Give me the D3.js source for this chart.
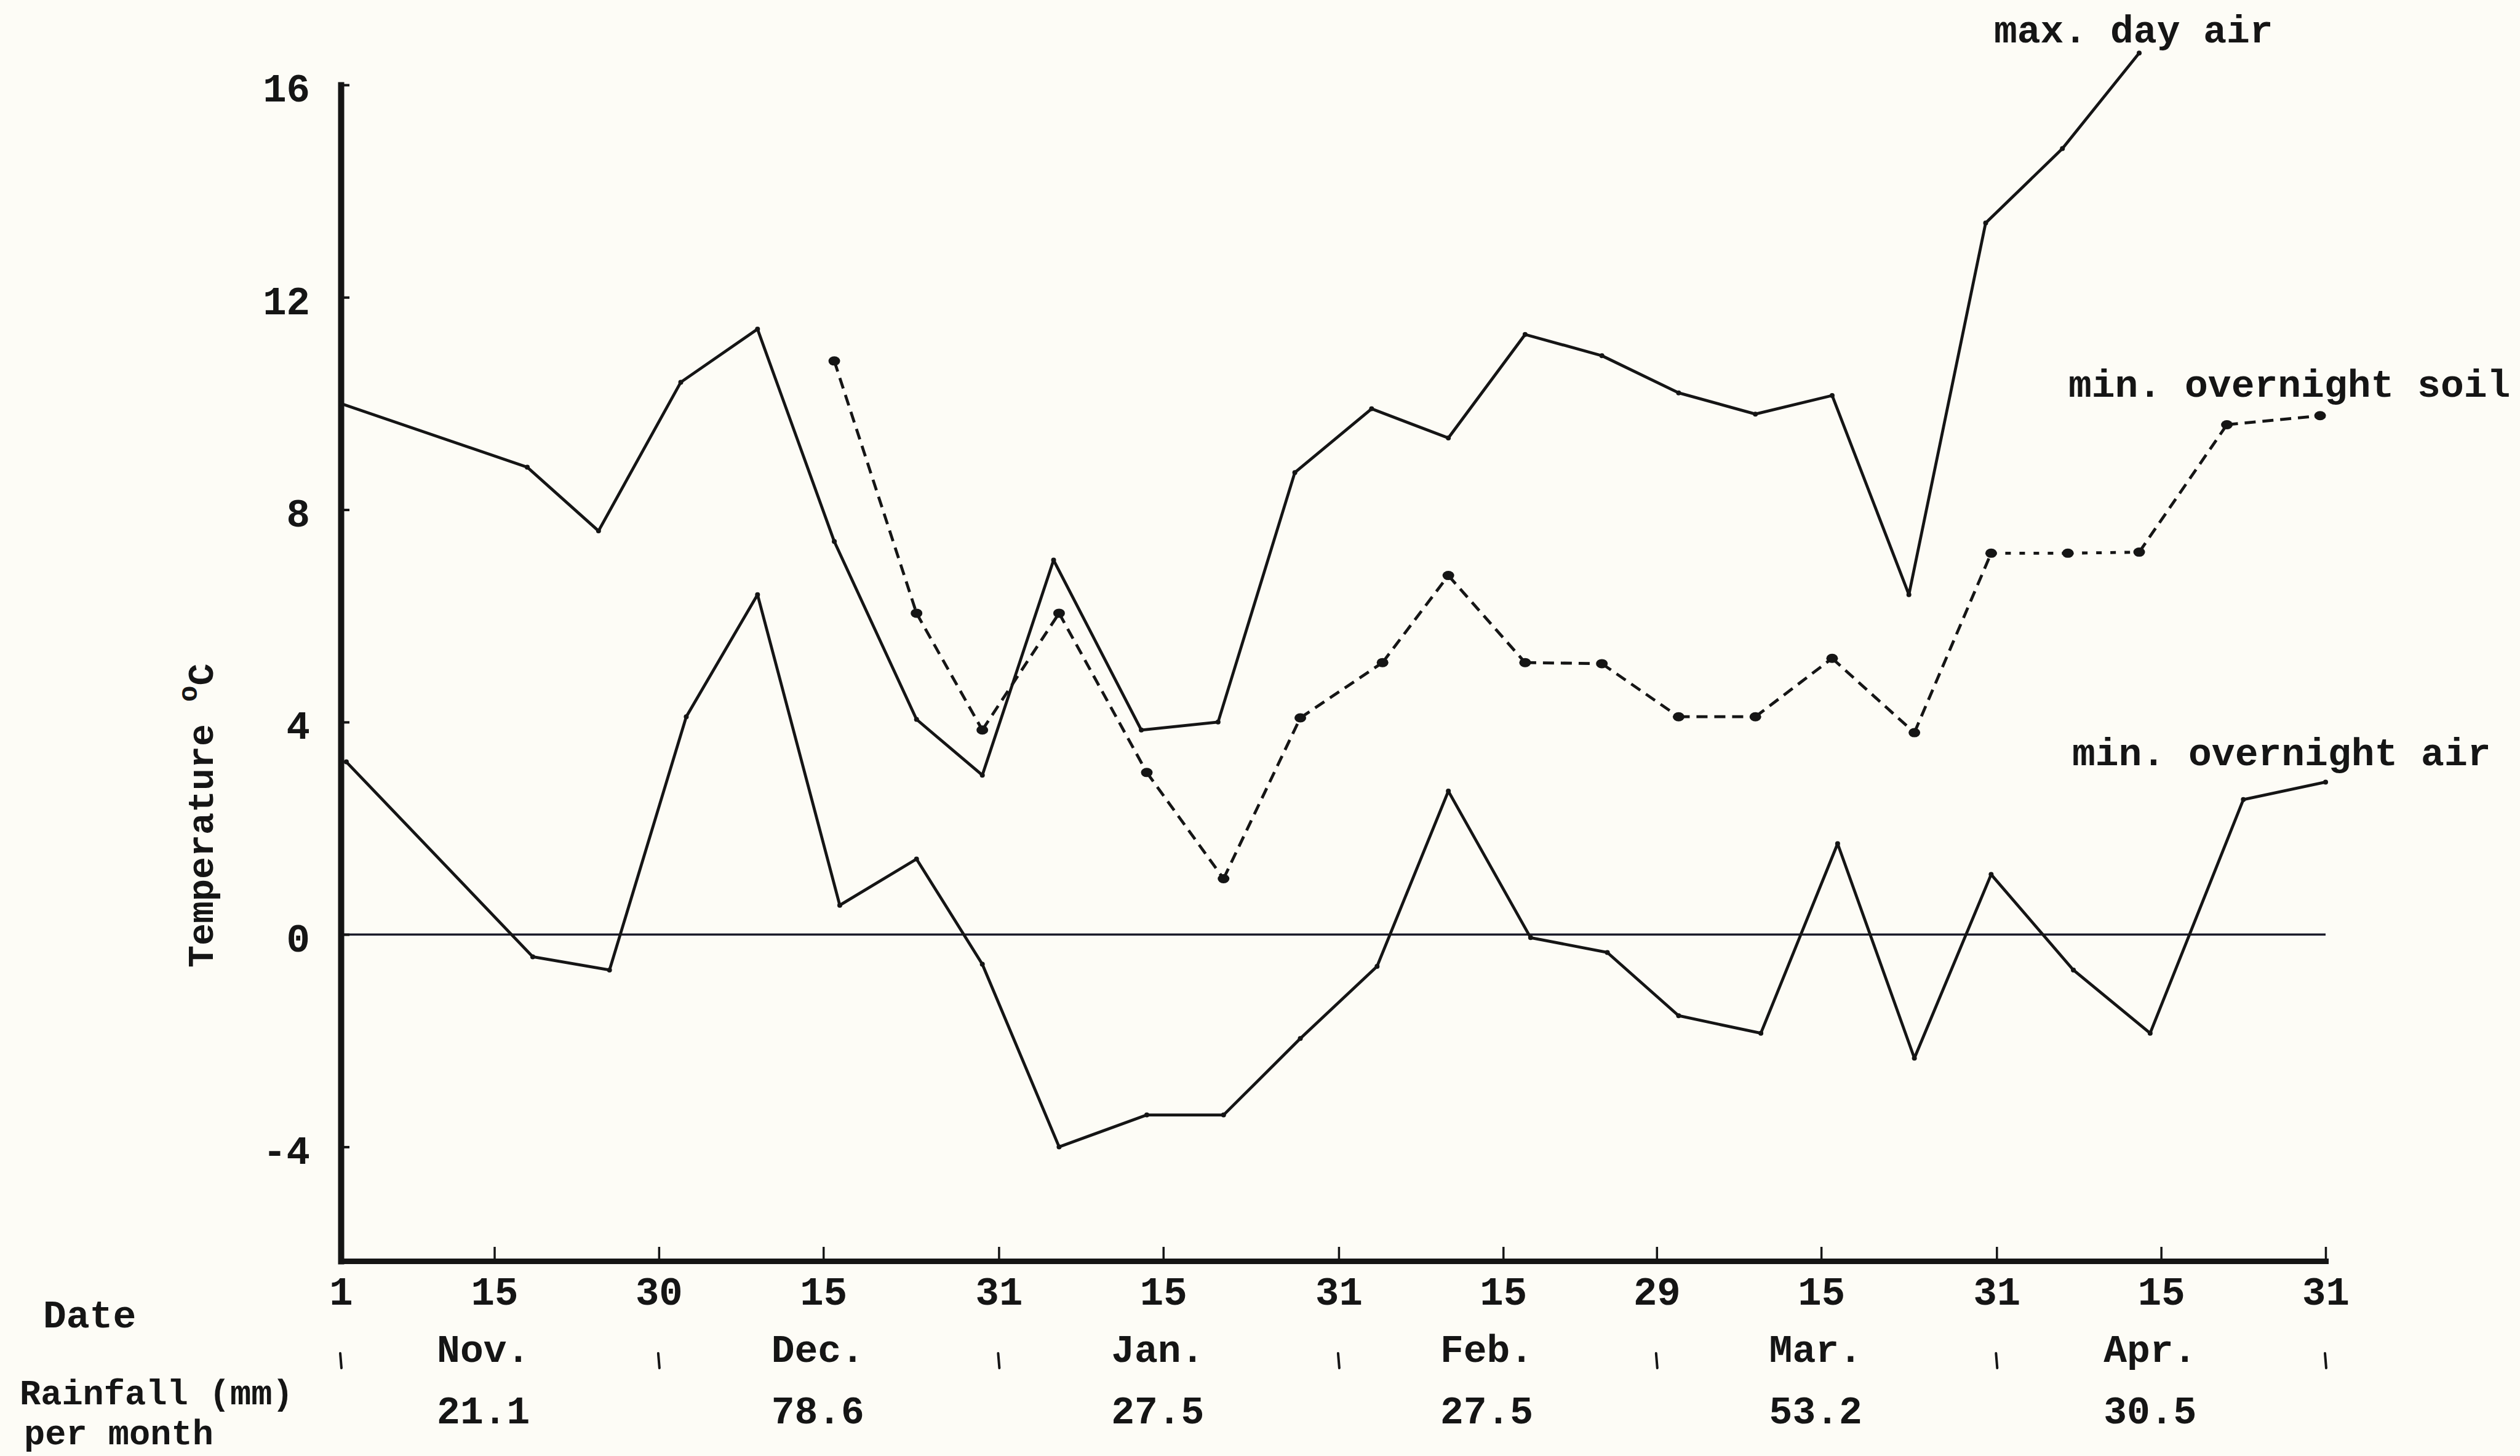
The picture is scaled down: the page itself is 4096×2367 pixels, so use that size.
<!DOCTYPE html>
<html>
<head>
<meta charset="utf-8">
<script src="https://cdn.jsdelivr.net/npm/d3@7"></script>
<style>
  html, body { margin: 0; padding: 0; background: #fdfcf6; }
  svg { display: block; }
</style>
</head>
<body>
<svg id="chart" width="4096" height="2367"></svg>
<script>
// Days are counted from 1 November (day 0) through 30 April (day 181).
const maxAirDays = [0, 17, 23.5, 31, 38, 45, 52.5, 58.5, 65, 73, 80, 87, 94, 101, 108, 115, 122, 129, 136, 143, 150, 157, 164];
const maxAirTemp = [10.0, 8.8, 7.6, 10.4, 11.4, 7.4, 4.05, 3.0, 7.05, 3.85, 4.0, 8.7, 9.9, 9.35, 11.3, 10.9, 10.2, 9.8, 10.15, 6.4, 13.4, 14.8, 16.6];

const minAirDays = [0.5, 17.5, 24.5, 31.5, 38, 45.5, 52.5, 58.5, 65.5, 73.5, 80.5, 87.5, 94.5, 101, 108.5, 115.5, 122, 129.5, 136.5, 143.5, 150.5, 158, 165, 173.5, 181];
const minAirTemp = [3.25, -0.42, -0.67, 4.1, 6.4, 0.55, 1.42, -0.56, -4.0, -3.4, -3.4, -1.96, -0.6, 2.7, -0.06, -0.34, -1.53, -1.86, 1.71, -2.33, 1.13, -0.67, -1.86, 2.54, 2.87];

const soilDays = [45, 52.5, 58.5, 65.5, 73.5, 80.5, 87.5, 95, 101, 108, 115, 122, 129, 136, 143.5, 150.5, 157.5, 164, 172, 180.5];
const soilTemp = [10.8, 6.05, 3.85, 6.05, 3.05, 1.05, 4.08, 5.12, 6.76, 5.12, 5.1, 4.1, 4.1, 5.2, 3.8, 7.18, 7.18, 7.2, 9.6, 9.77];

const dateTickDays = [0, 14, 29, 44, 60, 75, 91, 106, 120, 135, 151, 166, 181];
const dateTickLabels = ["1", "15", "30", "15", "31", "15", "31", "15", "29", "15", "31", "15", "31"];
const tempTicks = [-4, 0, 4, 8, 12, 16];

const monthNames = ["Nov.", "Dec.", "Jan.", "Feb.", "Mar.", "Apr."];
const monthLengths = [30, 31, 31, 29, 31, 30];
const monthlyRainfall = [21.1, 78.6, 27.5, 27.5, 53.2, 30.5];

const INK = "#151515";
const FONT = "'Liberation Mono', 'DejaVu Sans Mono', monospace";
const FS = 63;

const svg = d3.select("#chart");
svg.append("rect").attr("width", 4096).attr("height", 2367).attr("fill", "#fdfcf6");

const x = d3.scaleLinear().domain([0, 181]).range([554, 3780]);
const y = d3.scaleLinear().domain([-6.15, 16]).range([2050, 138]);

// Zero reference line
svg.append("line")
  .attr("x1", x(0)).attr("x2", x(181))
  .attr("y1", y(0)).attr("y2", y(0))
  .attr("stroke", "#1c1c2a").attr("stroke-width", 3.5);

// Temperature axis: ticks point into the plot, numbers to the left
const yAxis = svg.append("g")
  .attr("transform", `translate(${x(0)},0)`)
  .call(d3.axisLeft(y).tickValues(tempTicks).tickSizeInner(-14).tickSizeOuter(0)
    .tickPadding(50).tickFormat(d => d));
yAxis.select(".domain").attr("stroke", INK).attr("stroke-width", 10).attr("stroke-linecap", "square");
yAxis.selectAll(".tick line").attr("stroke", INK).attr("stroke-width", 4);
yAxis.selectAll(".tick text")
  .attr("font-family", FONT).attr("font-size", 64).attr("font-weight", "bold")
  .attr("fill", INK).attr("dy", "0.42em");

// Date axis: ticks point up, day numbers below
const xAxis = svg.append("g")
  .attr("transform", `translate(0,${y(-6.15)})`)
  .call(d3.axisBottom(x).tickValues(dateTickDays).tickSizeInner(-23).tickSizeOuter(0)
    .tickPadding(26).tickFormat((d, i) => dateTickLabels[i]));
xAxis.select(".domain").attr("stroke", INK).attr("stroke-width", 9).attr("stroke-linecap", "square");
xAxis.selectAll(".tick line").attr("stroke", INK).attr("stroke-width", 3.5);
xAxis.selectAll(".tick text")
  .attr("font-family", FONT).attr("font-size", 64).attr("font-weight", "bold")
  .attr("fill", INK);

// Series lines
const line = d3.line().x(d => x(d[0])).y(d => y(d[1]));
const pts = (days, temps) => days.map((d, i) => [d, temps[i]]);

const maxPts = pts(maxAirDays, maxAirTemp);
const minPts = pts(minAirDays, minAirTemp);
const soilPts = pts(soilDays, soilTemp);

[maxPts, minPts].forEach(p => {
  svg.append("path").datum(p).attr("d", line)
    .attr("fill", "none").attr("stroke", INK).attr("stroke-width", 4.8)
    .attr("stroke-linejoin", "round");
  svg.append("g").selectAll("circle").data(p).join("circle")
    .attr("cx", d => x(d[0])).attr("cy", d => y(d[1])).attr("r", 4).attr("fill", INK);
});

// Soil line drawn segment by segment; the early-April stretch is finer
const soilSegs = d3.pairs(soilPts);
svg.append("g").selectAll("path").data(soilSegs).join("path")
  .attr("d", line)
  .attr("fill", "none").attr("stroke", INK).attr("stroke-width", 4.8)
  .attr("stroke-dasharray", d => (d[0][0] >= 150 && d[1][0] <= 164) ? "9 14" : "18 11");
svg.append("g").selectAll("ellipse").data(soilPts).join("ellipse")
  .attr("cx", d => x(d[0])).attr("cy", d => y(d[1])).attr("rx", 9.5).attr("ry", 7.5).attr("fill", INK);

// Series labels
const label = (txt, lx, ly, fs = FS) => svg.append("text").attr("x", lx).attr("y", ly)
  .attr("font-family", FONT).attr("font-size", fs).attr("font-weight", "bold")
  .attr("fill", INK).text(txt);
label("max. day air", 3241, 69);
label("min. overnight soil", 3362, 645);
label("min. overnight air", 3368, 1244);

// Temperature title
const yt = svg.append("text")
  .attr("transform", "translate(346,1573) rotate(-90)")
  .attr("font-family", FONT).attr("font-size", 60).attr("font-weight", "bold")
  .attr("fill", INK);
yt.append("tspan").text("Temperature ");
yt.append("tspan").attr("font-size", 44).attr("dy", -26).text("o");
yt.append("tspan").attr("dy", 26).text("C");

// Bottom annotation rows
label("Date", 70, 2158);
label("Rainfall (mm)", 32, 2283, 57);
label("per month", 39, 2348, 57);

const monthStarts = d3.cumsum([0, ...monthLengths.slice(0, -1)]);
const monthEnds = monthStarts.map((s, i) => s + monthLengths[i] - 1);
const boundaries = [0, ...monthEnds];

svg.append("g").selectAll("line").data(boundaries).join("line")
  .attr("x1", d => x(d) - 1).attr("x2", d => x(d) + 1)
  .attr("y1", 2200).attr("y2", 2224)
  .attr("stroke", INK).attr("stroke-width", 4).attr("stroke-linecap", "round");

svg.append("g").selectAll("text").data(monthNames).join("text")
  .attr("x", (d, i) => x(monthStarts[i] + monthLengths[i] / 2 - 2))
  .attr("y", 2214).attr("text-anchor", "middle")
  .attr("font-family", FONT).attr("font-size", FS).attr("font-weight", "bold")
  .attr("fill", INK).text(d => d);

svg.append("g").selectAll("text").data(monthlyRainfall).join("text")
  .attr("x", (d, i) => x(monthStarts[i] + monthLengths[i] / 2 - 2))
  .attr("y", 2314).attr("text-anchor", "middle")
  .attr("font-family", FONT).attr("font-size", FS).attr("font-weight", "bold")
  .attr("fill", INK).text(d => d.toFixed(1));
</script>
</body>
</html>
